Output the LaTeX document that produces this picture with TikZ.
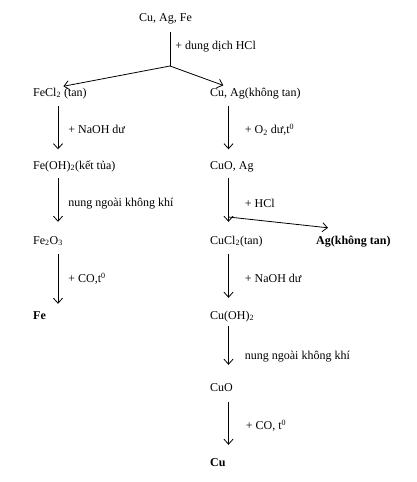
\documentclass[tikz,border=0pt]{standalone}
\usepackage{fontspec}
\setmainfont{Liberation Serif}
\usepackage{tikz}
\usetikzlibrary{arrows.meta, positioning, calc}
\tikzset{
  chem/.style={anchor=west, inner sep=0pt, text height=8.5pt, text depth=2.5pt,
    font=\fontsize{12}{14}\selectfont},
  boldchem/.style={chem, font=\fontsize{12}{14}\selectfont\bfseries},
  cond/.style={anchor=west, inner sep=0pt, font=\fontsize{12}{14}\selectfont},
  arrow/.style={-{Straight Barb[length=5pt,width=9pt]}, line width=0.8pt,
    shorten <=7.5pt, shorten >=11pt},
  line/.style={line width=0.8pt}
}

\begin{document}
\begin{tikzpicture}[x=1pt, y=-1pt]
  \useasboundingbox (0,0) rectangle (416,482);
  \coordinate (colL) at (58,0);
  \coordinate (colR) at (228.5,0);
  \coordinate (split) at (170,66);

  % Start mixture
  \node[chem] (cuagfe) at (139,18) {Cu, Ag, Fe};
  \draw[line, shorten <=8.5pt] (cuagfe.south -| split) -- (split)
    node[cond, pos=0.55, right=5pt] {+ dung dịch HCl};

  % Left column
  \node[chem] (fecl) at (33,93) {FeCl\textsubscript{2} (tan)};
  \node[chem] (feoh) at (33,166) {Fe(OH)\textsubscript{2}(kết tủa)};
  \node[chem] (feo) at (33,241) {Fe\textsubscript{2}O\textsubscript{3}};
  \node[boldchem] (fe) at (33,316) {Fe};

  % Right column
  \node[chem] (cuag) at (210,93) {Cu, Ag(không tan)};
  \node[chem] (cuoag) at (210,166) {CuO, Ag};
  \node[chem] (cucl) at (210,241) {CuCl\textsubscript{2}(tan)};
  \node[boldchem] (agkt) at (316,241) {Ag(không tan)};
  \node[chem] (cuoh) at (210,316) {Cu(OH)\textsubscript{2}};
  \node[chem] (cuo) at (210,388) {CuO};
  \node[boldchem] (cu) at (210,463) {Cu};

  % Branches
  \draw[arrow, shorten <=0pt, shorten >=5.5pt] (split) -- (fecl.north -| colL);
  \draw[arrow, shorten <=0pt, shorten >=5.5pt] (split) -- (cuag.north -| colR);

  % Iron steps
  \draw[arrow] (fecl.south -| colL) -- (feoh.north -| colL)
    node[cond, midway, right=10pt] {+ NaOH dư};
  \draw[arrow, shorten <=6.5pt, shorten >=13.5pt] (feoh.south -| colL) -- (feo.north -| colL)
    node[cond, midway, right=10pt] {nung ngoài không khí};
  \draw[arrow, shorten >=6.5pt] (feo.south -| colL) -- (fe.north -| colL)
    node[cond, midway, right=10pt] {+ CO,t\textsuperscript{0}};

  % Copper steps
  \draw[arrow] (cuag.south -| colR) -- (cuoag.north -| colR)
    node[cond, midway, right=16pt] {+ O\textsubscript{2} dư,t\textsuperscript{0}};
  \draw[arrow, shorten <=6.5pt, shorten >=13.5pt] (cuoag.south -| colR) -- (cucl.north -| colR)
    node[cond, midway, right=16pt] {+ HCl};
  \coordinate (hcl) at (228.5,217);
  \draw[arrow, shorten <=0pt, shorten >=0pt] (hcl) -- ($(agkt.north west)+(12,-7.5)$);
  \draw[arrow, shorten >=12.5pt] (cucl.south -| colR) -- (cuoh.north -| colR)
    node[cond, midway, right=16pt] {+ NaOH dư};
  \draw[arrow, shorten <=4.5pt, shorten >=17.5pt] (cuoh.south -| colR) -- (cuo.north -| colR)
    node[cond, pos=0.58, right=16pt] {nung ngoài không khí};
  \draw[arrow, shorten <=8.5pt, shorten >=12.5pt] (cuo.south -| colR) -- (cu.north -| colR)
    node[cond, midway, right=17pt] {+ CO, t\textsuperscript{0}};
\end{tikzpicture}
\end{document}
